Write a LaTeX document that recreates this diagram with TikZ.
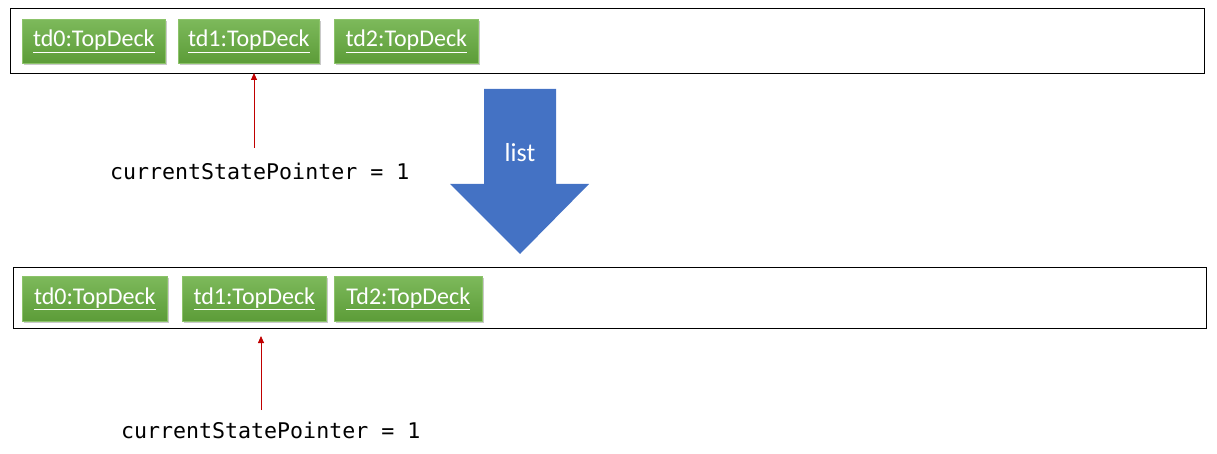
\documentclass[tikz,border=0pt]{standalone}
\usepackage{fontspec}
\setmainfont{Carlito}
\newfontfamily\codefont{DejaVu Sans Mono}
\usetikzlibrary{arrows.meta,shadows}
\definecolor{gtop}{HTML}{7DB95B}
\definecolor{gbot}{HTML}{5C9C38}
\definecolor{gborder}{HTML}{8CC36A}
\definecolor{bluearrow}{HTML}{4472C4}
\definecolor{redline}{HTML}{C00000}
\newcommand{\ul}[1]{\underline{#1}}
\tikzset{
  frame/.style={draw=black, line width=0.9pt, fill=white},
  objbox/.style={draw=gborder, line width=0.6pt, top color=gtop, bottom color=gbot,
    drop shadow={shadow xshift=1.5pt, shadow yshift=-2pt, fill=black!35, opacity=0.6}},
  objtext/.style={text=white, font=\fontsize{24}{28}\selectfont, inner sep=0pt},
  code/.style={font=\codefont\fontsize{21.6}{24}\selectfont, inner sep=0pt, anchor=base west},
  ptr/.style={draw=redline, line width=0.8pt, -{Triangle[length=7pt,width=6pt]}},
}
\begin{document}
\begin{tikzpicture}[x=1pt,y=-1pt]
\useasboundingbox (0,0) rectangle (1217,454);
% top frame
\node[frame, minimum width=1194pt, minimum height=65pt, inner sep=0pt, anchor=north west] (topframe) at (10,8) {};
\node[objbox, anchor=north west, minimum width=143pt, minimum height=44pt, inner sep=0pt] (a0) at (22,19) {};
\node[objtext] at (a0.center) {\ul{td0:TopDeck}};
\node[objbox, anchor=north west, minimum width=141pt, minimum height=44pt, inner sep=0pt] (a1) at (178,19) {};
\node[objtext] at (a1.center) {\ul{td1:TopDeck}};
\node[objbox, anchor=north west, minimum width=144pt, minimum height=44pt, inner sep=0pt] (a2) at (334,19) {};
\node[objtext] at (a2.center) {\ul{td2:TopDeck}};
\coordinate (p1tip) at (254,73);
\coordinate (p1base) at (254,148);
\draw[ptr] (p1base) -- (p1tip);
\node[code] (c1) at (110,180) {currentStatePointer = 1};
% block arrow
\fill[bluearrow] (484,89) -- (556,89) -- (556,184) -- (589,184) -- (520,254) -- (450,184) -- (484,184) -- cycle;
\node[text=white, font=\fontsize{26}{30}\selectfont, inner sep=0pt] (lst) at (520,153) {list};
% bottom frame
\node[frame, minimum width=1193pt, minimum height=61pt, inner sep=0pt, anchor=north west] (botframe) at (13,267) {};
\node[objbox, anchor=north west, minimum width=145pt, minimum height=45pt, inner sep=0pt] (b0) at (22,276) {};
\node[objtext] at (b0.center) {\ul{td0:TopDeck}};
\node[objbox, anchor=north west, minimum width=144pt, minimum height=45pt, inner sep=0pt] (b1) at (182,276) {};
\node[objtext] at (b1.center) {\ul{td1:TopDeck}};
\node[objbox, anchor=north west, minimum width=148pt, minimum height=45pt, inner sep=0pt] (b2) at (334,276) {};
\node[objtext] at (b2.center) {\ul{Td2:TopDeck}};
\coordinate (p2tip) at (261,336);
\coordinate (p2base) at (261,410);
\draw[ptr] (p2base) -- (p2tip);
\node[code] (c2) at (121,438) {currentStatePointer = 1};
\end{tikzpicture}
\end{document}
